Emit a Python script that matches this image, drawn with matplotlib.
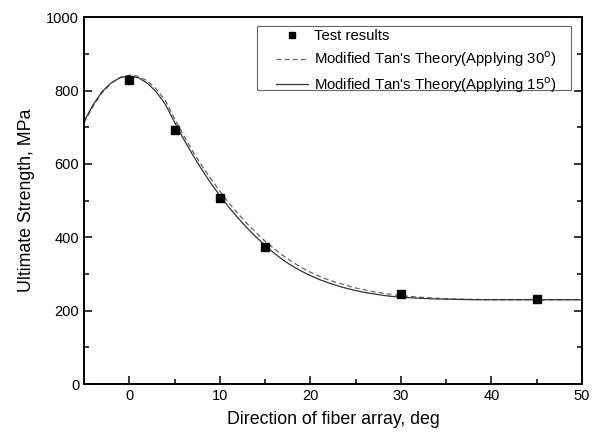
import numpy as np
import matplotlib

matplotlib.use("Agg")
import matplotlib.pyplot as plt
from matplotlib.patches import Rectangle
from matplotlib.ticker import MultipleLocator

plt.rcParams["font.family"] = ["Liberation Sans", "DejaVu Sans"]

# measured points
test_deg = [0, 5, 10, 15, 30, 45]
test_mpa = [830, 693, 507, 375, 245, 233]

# curves
curve_deg = [-5, -4, -3, -2, -1, 0, 1, 2, 3, 4, 5, 6, 7, 8, 9, 10, 11, 12, 13,
             14, 15, 16, 17, 18, 19, 20, 21, 22, 23, 24, 25, 26, 27, 28, 29,
             30, 32, 34, 36, 38, 40, 45, 50]
tan_30 = [712, 757, 794, 820, 836, 842, 839, 826, 804, 772, 724, 678, 635,
          596, 560, 526, 494, 465, 438, 413, 390, 369, 350, 333, 318, 305,
          294, 284, 276, 269, 262, 257, 252, 248, 244, 241, 237, 234, 232,
          231, 230, 230, 230]
tan_15 = [716, 761, 797, 821, 835, 840, 835, 820, 796, 762, 714, 668, 625,
          585, 548, 514, 482, 453, 426, 401, 378, 357, 338, 322, 308, 296,
          285, 276, 268, 261, 255, 250, 246, 242, 239, 237, 234, 232, 231,
          230, 230, 230, 230]

fig = plt.figure(figsize=(5.97, 4.40), dpi=100)
ax = fig.add_axes([0.1407, 0.127, 0.834, 0.834])

ax.plot(test_deg, test_mpa, "s", color="black", ms=5.2, ls="none",
        label="Test results", zorder=3)
ax.plot(curve_deg, tan_30, ls=(0, (4, 2.5)), color="#666666", lw=0.9,
        label="Modified Tan's Theory(Applying 30$^{\\rm o}$)")
ax.plot(curve_deg, tan_15, ls="-", color="#333333", lw=0.9,
        label="Modified Tan's Theory(Applying 15$^{\\rm o}$)")

ax.set_xlim(-5, 50)
ax.set_ylim(0, 1000)
ax.xaxis.set_major_locator(MultipleLocator(10))
ax.xaxis.set_minor_locator(MultipleLocator(5))
ax.yaxis.set_major_locator(MultipleLocator(200))
ax.yaxis.set_minor_locator(MultipleLocator(100))
ax.tick_params(which="both", direction="in", left=True, right=True,
               bottom=True, top=False, labelsize=10.5, width=1.1)
ax.tick_params(which="major", length=6)
ax.tick_params(which="minor", length=3.5)
for s in ax.spines.values():
    s.set_linewidth(1.4)

ax.set_xlabel("Direction of fiber array, deg", fontsize=12.8, labelpad=6)
ax.set_ylabel("Ultimate Strength, MPa", fontsize=12.8, labelpad=8)

# legend without its own frame; box drawn separately to get the wide side padding
leg = ax.legend(loc="upper left", bbox_to_anchor=(0.385, 0.968),
                fontsize=10.7, frameon=False, handlelength=2.2,
                handletextpad=0.35, borderpad=0, labelspacing=0.42,
                borderaxespad=0, markerscale=0.7)
ax.add_patch(Rectangle((0.347, 0.801), 0.631, 0.1745, transform=ax.transAxes,
                       fill=False, edgecolor="#666666", lw=0.8, zorder=4))

fig.savefig("out.png", dpi=100)
